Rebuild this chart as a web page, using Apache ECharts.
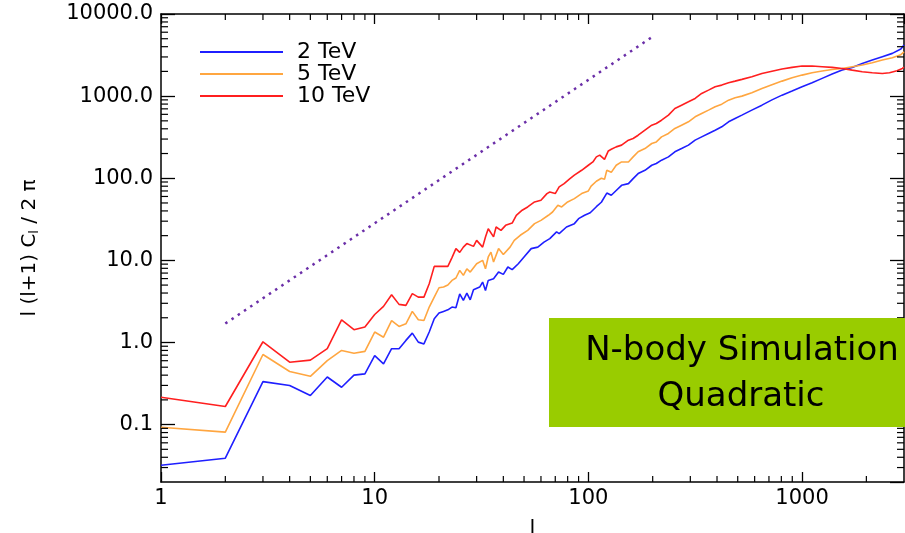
<!DOCTYPE html>
<html><head><meta charset="utf-8">
<script src="https://cdn.jsdelivr.net/npm/echarts@6/dist/echarts.min.js"></script>
<style>html,body{margin:0;padding:0;background:#fff}#c{width:905px;height:533px}</style>
</head><body><div id="c"></div><script>
// ---- data ----
const blueL = [1,2,3,4,5,6,7,8,9,10,11,12,13,14,15,16,17,18,19,20,21,22,23,24,25,26,27,28,29,31,32,33,34,36,38,40,42,44,47,50,54,58,62,66,71,73,79,86,90,96,102,109,115,122,128,135,143,154,162,171,184,198,208,220,237,254,273,294,316,339,365,392,421,453,486,523,582,649,723,806,898,1000,1114,1242,1383,1541,1717,1913,2131,2375,2646,2900,3000];
const blueV = [0.032,0.039,0.334,0.30,0.226,0.38,0.285,0.40,0.415,0.69,0.55,0.84,0.84,1.06,1.30,1.01,0.96,1.34,1.95,2.28,2.39,2.5,2.7,2.65,3.9,3.25,4.0,3.31,4.39,4.73,5.44,4.3,5.7,5.97,7.2,6.75,8.3,7.7,9.1,11.0,13.9,14.5,16.7,18.4,22.2,21.2,25.5,28,32.2,35.4,38,45,51,66,62,71,82,86,99,114,125,144,151,166,182,210,230,253,291,319,351,385,423,487,535,587,675,776,900,1028,1151,1300,1455,1644,1855,2075,2237,2503,2750,3020,3315,3750,4200];

const orangeL = [1,2,3,4,5,6,7,8,9,10,11,12,13,14,15,16,17,18,19,20,21,22,23,24,25,26,27,28,30,32,33,34,35,36,38,40,43,45,48,52,56,60,65,68,72,75,80,86,93,100,103,109,115,119,122,128,135,143,154,162,171,184,198,208,220,237,254,273,294,316,339,365,392,421,453,486,523,582,649,723,806,898,1000,1114,1242,1383,1541,1717,1913,2131,2375,2646,2900,3000];
const orangeV = [0.093,0.081,0.714,0.443,0.387,0.60,0.80,0.74,0.78,1.34,1.16,1.85,1.57,1.69,2.39,1.89,1.85,2.70,3.57,4.64,4.73,5.0,5.7,6.1,7.55,6.56,7.9,7.2,9.1,10,7.9,11,12.6,9.55,13.9,11.8,14.5,17.5,20.2,23.2,28,30.7,35.4,38.8,46.8,44.7,51.4,56.5,65,70,80,92,100,97,125,118,144,158,158,182,210,230,265,277,319,351,404,443,487,560,615,675,741,798,893,955,1000,1100,1240,1375,1523,1674,1803,1927,2018,2114,2174,2279,2388,2551,2750,2937,3200,3450];

const redL = [1,2,3,4,5,6,7,8,9,10,11,12,13,14,15,16,17,18,19,20,21,22,23,24,25,26,27,29,30,32,33,34,36,37,39,41,44,46,49,52,56,60,64,66,70,73,77,82,86,93,100,105,109,113,119,124,128,135,143,154,162,171,184,198,208,220,237,254,273,294,316,339,365,392,421,453,486,523,582,649,723,806,898,1000,1114,1242,1383,1541,1717,1913,2131,2375,2566,2782,2947,3000];
const redV = [0.215,0.166,1.02,0.575,0.61,0.84,1.89,1.43,1.54,2.19,2.75,3.81,2.91,2.83,3.93,3.57,3.57,5.2,8.45,8.45,8.45,8.45,10.8,13.9,12.5,14.5,16.0,14.8,17.5,14.5,19.3,24.3,19.3,25.5,23.2,26.7,28.5,35.4,40.8,44.7,51.4,53.9,65,68,65,78.4,86,99,109,125,144,158,182,191,170,215,225,241,253,291,305,334,385,443,464,509,587,707,776,853,937,1078,1183,1300,1362,1455,1523,1600,1722,1889,2010,2135,2237,2322,2322,2279,2237,2174,2075,1982,1927,1889,1927,2037,2174,2250];

const refL = [2, 200];
const refV = [1.7, 5300];

const seriesNames = ['2 TeV', '5 TeV', '10 TeV'];
const xMinorTicks = [2,3,4,5,6,7,8,9,20,30,40,50,60,70,80,90,200,300,400,500,600,700,800,900,2000];
const yMinorTicks = [0.03,0.04,0.05,0.06,0.07,0.08,0.09,0.2,0.3,0.4,0.5,0.6,0.7,0.8,0.9,2,3,4,5,6,7,8,9,20,30,40,50,60,70,80,90,200,300,400,500,600,700,800,900,2000,3000,4000,5000,6000,7000,8000,9000];

const X_MIN = 1, X_MAX = 3000, Y_MIN = 0.02, Y_MAX = 10000;
const FONT = '"DejaVu Sans", sans-serif';

const pairs = (L, V) => L.map((l, i) => [l, V[i]]);

const axisLine = {show: true, onZero: false, lineStyle: {color: '#000', width: 1.5}};

function xMinorRender(params, api) {
  const cs = params.coordSys;
  const x = api.coord([api.value(0), Y_MIN])[0];
  const b = cs.y + cs.height, t = cs.y;
  return {type: 'group', children: [
    {type: 'line', shape: {x1: x, y1: b, x2: x, y2: b - 6}, style: {stroke: '#000', lineWidth: 1.2}},
    {type: 'line', shape: {x1: x, y1: t, x2: x, y2: t + 6}, style: {stroke: '#000', lineWidth: 1.2}}
  ]};
}
function yMinorRender(params, api) {
  const cs = params.coordSys;
  const y = api.coord([X_MIN, api.value(1)])[1];
  const l = cs.x, r = cs.x + cs.width;
  return {type: 'group', children: [
    {type: 'line', shape: {x1: l, y1: y, x2: l + 7, y2: y}, style: {stroke: '#000', lineWidth: 1.2}},
    {type: 'line', shape: {x1: r, y1: y, x2: r - 7, y2: y}, style: {stroke: '#000', lineWidth: 1.2}}
  ]};
}

const chart = echarts.init(document.getElementById('c'), null, {renderer: 'canvas'});
chart.setOption({
  animation: false,
  backgroundColor: '#fff',
  grid: {left: 161, right: 1, top: 14, bottom: 51, containLabel: false, outerBoundsMode: 'none'},
  legend: {
    left: 195, top: 36, orient: 'vertical', icon: 'rect',
    itemWidth: 83, itemHeight: 2, itemGap: 0,
    data: seriesNames,
    textStyle: {fontFamily: FONT, fontSize: 22, color: '#000', lineHeight: 19.5, padding: [0, 0, 0, 9]}
  },
  xAxis: [
    {type: 'log', logBase: 10, min: X_MIN, max: X_MAX, position: 'bottom',
     axisLine: axisLine,
     axisTick: {inside: true, length: 10, lineStyle: {color: '#000', width: 1.3}},
     axisLabel: {formatter: v => String(Math.round(v)), color: '#000', fontFamily: FONT, fontSize: 21, margin: 6, showMaxLabel: false},
     splitLine: {show: false}, minorTick: {show: false},
     name: 'l', nameLocation: 'middle', nameGap: 37,
     nameTextStyle: {fontFamily: FONT, fontSize: 21, color: '#000'}},
    {type: 'log', logBase: 10, min: X_MIN, max: X_MAX, position: 'top',
     axisLine: axisLine,
     axisTick: {inside: true, length: 10, lineStyle: {color: '#000', width: 1.3}},
     axisLabel: {show: false}, splitLine: {show: false}}
  ],
  yAxis: [
    {type: 'log', logBase: 10, min: Y_MIN, max: Y_MAX, position: 'left',
     axisLine: axisLine,
     axisTick: {inside: true, length: 14, lineStyle: {color: '#000', width: 1.3}},
     axisLabel: {formatter: v => v.toFixed(1), color: '#000', fontFamily: FONT, fontSize: 21, margin: 8, showMinLabel: false},
     splitLine: {show: false},
     name: 'l (l+1) C{s|l} / 2 π', nameLocation: 'middle', nameGap: 120,
     nameTextStyle: {fontFamily: FONT, fontSize: 20, color: '#000',
       rich: {s: {fontFamily: FONT, fontSize: 13, color: '#000', padding: [9, 0, 0, 0]}}}},
    {type: 'log', logBase: 10, min: Y_MIN, max: Y_MAX, position: 'right',
     axisLine: axisLine,
     axisTick: {inside: true, length: 14, lineStyle: {color: '#000', width: 1.3}},
     axisLabel: {show: false}, splitLine: {show: false}}
  ],
  series: [
    {name: seriesNames[0], type: 'line', data: pairs(blueL, blueV), showSymbol: false, color: '#1f1fff',
     lineStyle: {width: 1.6, color: '#1f1fff'}, z: 3},
    {name: seriesNames[1], type: 'line', data: pairs(orangeL, orangeV), showSymbol: false, color: '#ffa640',
     lineStyle: {width: 1.6, color: '#ffa640'}, z: 3},
    {name: seriesNames[2], type: 'line', data: pairs(redL, redV), showSymbol: false, color: '#ff1f1f',
     lineStyle: {width: 1.6, color: '#ff1f1f'}, z: 3},
    {name: 'ref', type: 'line', data: pairs(refL, refV), showSymbol: false,
     lineStyle: {width: 2.5, color: '#6b2fa8', type: [2.5, 5]}, z: 3},
    {type: 'custom', renderItem: xMinorRender, data: xMinorTicks.map(v => [v, Y_MIN]), silent: true, clip: false, z: 4},
    {type: 'custom', renderItem: yMinorRender, data: yMinorTicks.map(v => [X_MIN, v]), silent: true, clip: false, z: 4}
  ],
  graphic: [
    {type: 'rect', x: 549, y: 318, shape: {width: 356, height: 109}, style: {fill: '#99cc00'}, z: 100},
    {type: 'text', x: 742, y: 351, z: 101,
     style: {text: 'N-body Simulation', font: '34px "DejaVu Sans"', fill: '#000', align: 'center', verticalAlign: 'middle'}},
    {type: 'text', x: 741, y: 397, z: 101,
     style: {text: 'Quadratic', font: '34px "DejaVu Sans"', fill: '#000', align: 'center', verticalAlign: 'middle'}}
  ]
});
</script></body></html>
